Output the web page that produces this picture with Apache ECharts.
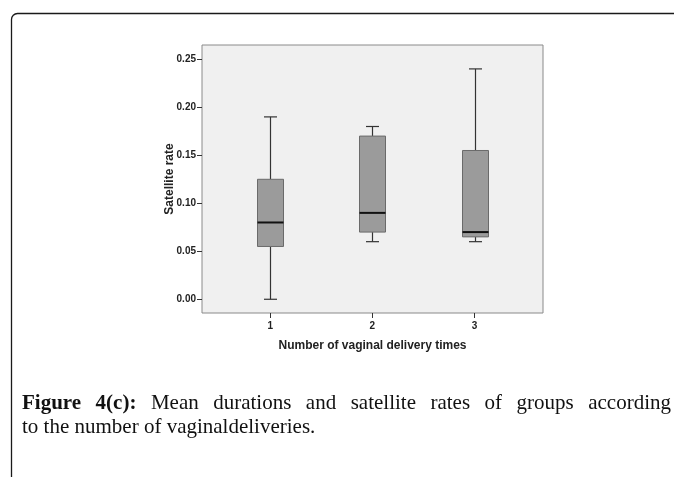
<!DOCTYPE html>
<html>
<head>
<meta charset="utf-8">
<script src="https://cdn.jsdelivr.net/npm/echarts@6/dist/echarts.min.js"></script>
<style>
html,body{margin:0;padding:0;background:#fff;overflow:hidden;}
#wrap{position:relative;width:674px;height:477px;}
#chart{position:absolute;left:0;top:0;width:674px;height:477px;}
.cap{position:absolute;left:22px;font-family:'Liberation Serif',serif;font-size:21px;line-height:24px;color:#111;white-space:nowrap;}
#cap1{top:390px;width:649px;text-align:justify;text-align-last:justify;white-space:normal;}
#cap2{top:414px;}
#cap1 b{font-weight:bold;}
</style>
</head>
<body>
<div id="wrap">
<div id="chart"></div>
<div class="cap" id="cap1"></div>
<div class="cap" id="cap2"></div>
</div>
<script>
// Data
const categories = [1, 2, 3];
const minVals    = [0.000, 0.060, 0.060];
const q1Vals     = [0.055, 0.070, 0.065];
const medianVals = [0.080, 0.090, 0.070];
const q3Vals     = [0.125, 0.170, 0.155];
const maxVals    = [0.190, 0.180, 0.240];
const yTickValues = [0, 0.05, 0.10, 0.15, 0.20, 0.25];
const xTickValues = [1, 2, 3];
const xTitle = 'Number of vaginal delivery times';
const yTitle = 'Satellite rate';
const captionBold = 'Figure 4(c):';
const captionLine1 = ' Mean durations and satellite rates of groups according';
const captionLine2 = 'to the number of vaginaldeliveries.';

const cap1 = document.getElementById('cap1');
const bEl = document.createElement('b');
bEl.textContent = captionBold;
cap1.appendChild(bEl);
cap1.appendChild(document.createTextNode(captionLine1));
document.getElementById('cap2').textContent = captionLine2;

const boxData = categories.map((c, i) => [c, minVals[i], q1Vals[i], medianVals[i], q3Vals[i], maxVals[i]]);

const chart = echarts.init(document.getElementById('chart'), null, {renderer: 'canvas'});
const BOX_W = 26, CAP_HALF = 6.5;
const SANS = 'Liberation Sans, Arial';

const option = {
  animation: false,
  backgroundColor: 'transparent',
  grid: {
    left: 202, top: 45, right: 131, bottom: 164,
    show: true, backgroundColor: '#f0f0f0', borderColor: '#8a8a8a', borderWidth: 1
  },
  xAxis: {
    type: 'value',
    min: 0.333, max: 3.67,
    axisLine: {show: false, onZero: false},
    splitLine: {show: false},
    axisTick: {show: true, length: 5, lineStyle: {color: '#333'}, customValues: xTickValues},
    axisLabel: {
      customValues: xTickValues, margin: 8,
      fontFamily: SANS, fontWeight: 'bold', fontSize: 10, color: '#222',
      formatter: v => String(v)
    },
    name: xTitle, nameLocation: 'middle', nameGap: 27, nameMoveOverlap: false,
    nameTextStyle: {fontFamily: SANS, fontWeight: 'bold', fontSize: 12, color: '#222'}
  },
  yAxis: {
    type: 'value',
    min: -0.0143, max: 0.2649,
    axisLine: {show: false, onZero: false},
    splitLine: {show: false},
    axisTick: {show: true, length: 5, lineStyle: {color: '#333'}, customValues: yTickValues},
    axisLabel: {
      customValues: yTickValues, margin: 6,
      fontFamily: SANS, fontWeight: 'bold', fontSize: 10, color: '#222',
      formatter: v => v.toFixed(2)
    },
    name: yTitle, nameLocation: 'middle', nameGap: 26, nameRotate: 90, nameMoveOverlap: false,
    nameTextStyle: {fontFamily: SANS, fontWeight: 'bold', fontSize: 12, color: '#222'}
  },
  series: [{
    type: 'custom',
    data: boxData,
    encode: {x: 0, y: [1, 2, 3, 4, 5]},
    renderItem: function (params, api) {
      const x = api.value(0);
      const pMin = api.coord([x, api.value(1)]);
      const pQ1 = api.coord([x, api.value(2)]);
      const pMed = api.coord([x, api.value(3)]);
      const pQ3 = api.coord([x, api.value(4)]);
      const pMax = api.coord([x, api.value(5)]);
      const cx = Math.round(pMed[0]) + 0.5;
      const wl = {stroke: '#333', lineWidth: 1.2};
      return {
        type: 'group',
        children: [
          {type: 'line', shape: {x1: cx, y1: pMax[1], x2: cx, y2: pQ3[1]}, style: wl},
          {type: 'line', shape: {x1: cx, y1: pQ1[1], x2: cx, y2: pMin[1]}, style: wl},
          {type: 'line', shape: {x1: cx - CAP_HALF, y1: pMax[1], x2: cx + CAP_HALF, y2: pMax[1]}, style: wl},
          {type: 'line', shape: {x1: cx - CAP_HALF, y1: pMin[1], x2: cx + CAP_HALF, y2: pMin[1]}, style: wl},
          {type: 'rect', shape: {x: cx - BOX_W / 2, y: pQ3[1], width: BOX_W, height: pQ1[1] - pQ3[1]},
            style: {fill: '#9b9b9b', stroke: '#6a6a6a', lineWidth: 1}},
          {type: 'line', shape: {x1: cx - BOX_W / 2, y1: pMed[1], x2: cx + BOX_W / 2, y2: pMed[1]},
            style: {stroke: '#111', lineWidth: 2}}
        ]
      };
    }
  }],
  graphic: [
    {type: 'rect', left: 9, top: 11, shape: {x: 0, y: 0, width: 720, height: 520, r: [6, 0, 0, 0]},
      style: {fill: 'none', stroke: '#1a1a1a', lineWidth: 1.3}, silent: true}
  ]
};
chart.setOption(option);
</script>
</body>
</html>
